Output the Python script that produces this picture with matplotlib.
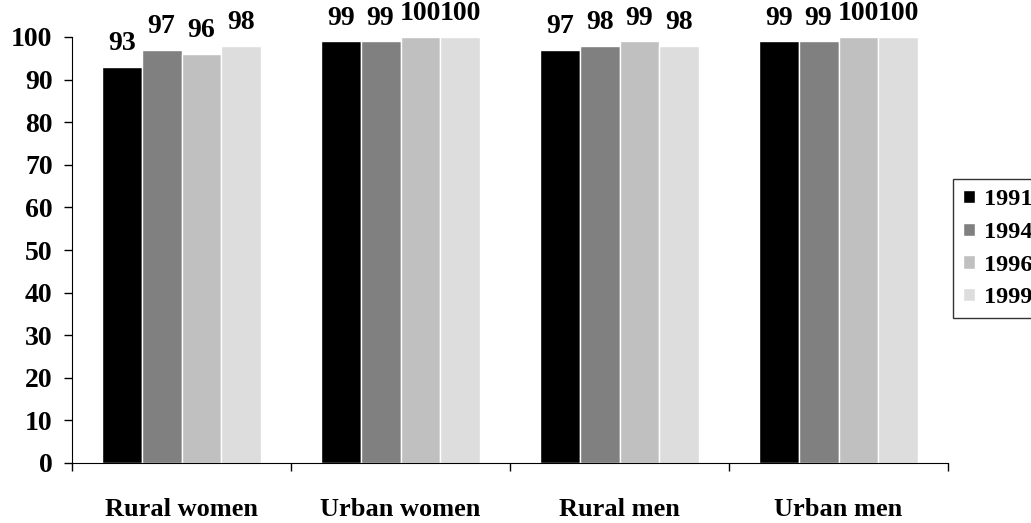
import matplotlib.pyplot as plt
import numpy as np

plt.rcParams['font.family'] = ['Liberation Serif', 'DejaVu Serif']
plt.rcParams['font.weight'] = 'bold'

groups = ['Rural women', 'Urban women', 'Rural men', 'Urban men']
years = ['1991', '1994', '1996', '1999']
values = {
    '1991': [93, 99, 97, 99],
    '1994': [97, 99, 98, 99],
    '1996': [96, 100, 99, 100],
    '1999': [98, 100, 98, 100],
}
colors = ['#000000', '#808080', '#c0c0c0', '#dddddd']

fig = plt.figure(figsize=(10.31, 5.23), dpi=100)
ax = fig.add_axes([72/1031, 1-463/523, 876/1031, 426/523])

n = len(years)
bar_w = 1 / (n + 1.5)
x = np.arange(len(groups)) + 0.5
for i, yr in enumerate(years):
    pos = x + (i - (n - 1) / 2) * bar_w
    bars = ax.bar(pos, values[yr], width=bar_w, color=colors[i],
                  edgecolor='white', linewidth=1, label=yr)
    for b, v in zip(bars, values[yr]):
        ax.annotate(str(v), (b.get_x() + b.get_width() / 2, v),
                    xytext=(0, 12), textcoords='offset points',
                    ha='center', va='baseline', fontsize=20,
                    fontweight='bold', annotation_clip=False)

ax.set_xlim(0, len(groups))
ax.set_ylim(0, 100)
ax.set_yticks(range(0, 101, 10))
ax.tick_params(axis='y', labelsize=20, length=6, width=1, pad=8)
ax.set_xticks(range(len(groups) + 1))
ax.set_xticklabels([])
ax.set_xticks(x, minor=True)
ax.set_xticklabels(groups, minor=True, fontsize=19, fontweight='bold')
ax.tick_params(axis='x', which='major', length=6, width=1, direction='out')
ax.tick_params(axis='x', which='minor', length=0, pad=25)
for lbl in ax.get_yticklabels():
    lbl.set_fontweight('bold')

ax.spines['top'].set_visible(False)
ax.spines['right'].set_visible(False)

leg = ax.legend(loc='upper left', bbox_to_anchor=(953/1031, 1-179/523),
                bbox_transform=fig.transFigure, frameon=True, fancybox=False,
                edgecolor='black', fontsize=17.5, handlelength=0.47,
                handleheight=0.47, handletextpad=0.38, labelspacing=0.48,
                borderpad=0.42, borderaxespad=0)
leg.get_frame().set_linewidth(1)

fig.savefig('out.png', dpi=100)
